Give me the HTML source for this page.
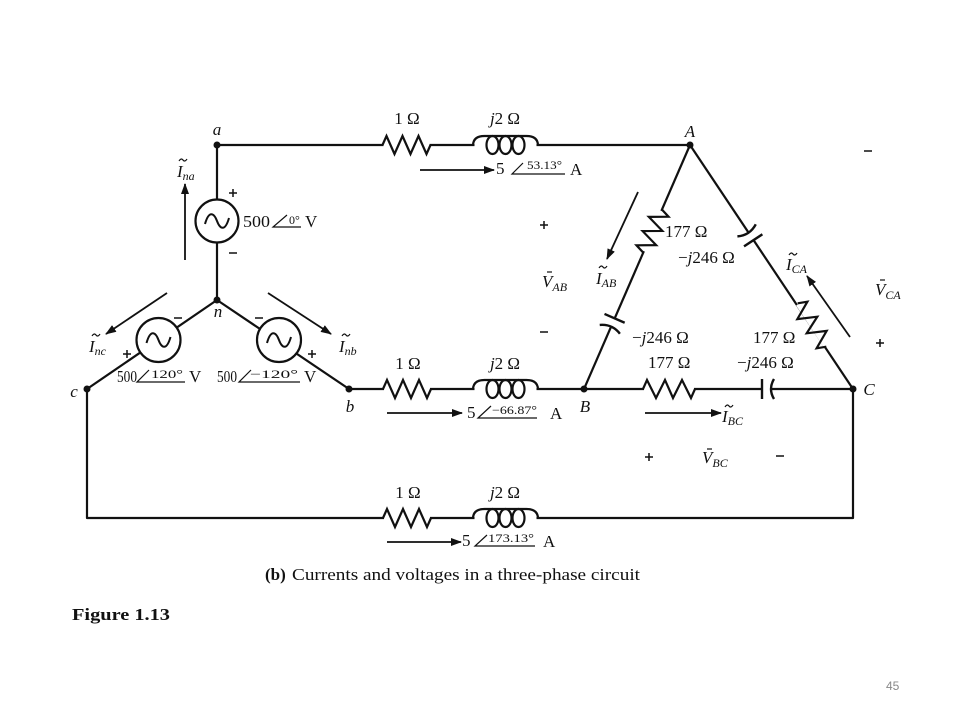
<!DOCTYPE html>
<html><head><meta charset="utf-8"><style>
html,body{margin:0;padding:0;background:#fff;}
svg{display:block;}
.t{font-family:"Liberation Serif",serif;font-size:17px;fill:#111;}
.i{font-style:italic;}
.s{font-size:12px;}
</style></head><body>
<svg width="960" height="720" viewBox="0 0 960 720" xmlns="http://www.w3.org/2000/svg">
<rect width="960" height="720" fill="#fff"/>
<defs>
<marker id="ah" markerWidth="11" markerHeight="8" refX="10" refY="4" orient="auto" markerUnits="userSpaceOnUse"><path d="M0,0 L11,4 L0,8 z" fill="#111"/></marker>
</defs>

<!-- wires -->
<g stroke="#111" stroke-width="2.2" fill="none" stroke-linejoin="round">
<path d="M217,145 H690"/>
<path d="M217,145 V300"/>
<path d="M217,300 L87,389 V518 H853 V389"/>
<path d="M217,300 L349,389 H853"/>
<path d="M690,145 L584,389"/>
<path d="M690,145 L853,389"/>
</g>

<!-- sources -->
<g stroke="#111" stroke-width="2.2" fill="#fff">
<circle cx="217" cy="221" r="21.5"/>
<circle cx="158.5" cy="340" r="22"/>
<circle cx="279" cy="340" r="22"/>
</g>
<g stroke="#111" stroke-width="2" fill="none">
<path d="M-12,3 C-8,-11 -3,-8 0,0 S8,11 12,-3" transform="translate(217,221)"/>
<path d="M-12,3 C-8,-11 -3,-8 0,0 S8,11 12,-3" transform="translate(158.5,340)"/>
<path d="M-12,3 C-8,-11 -3,-8 0,0 S8,11 12,-3" transform="translate(279,340)"/>
</g>

<!-- nodes -->
<g fill="#111">
<circle cx="217" cy="145" r="3.5"/>
<circle cx="690" cy="145" r="3.5"/>
<circle cx="217" cy="300" r="3.5"/>
<circle cx="87" cy="389" r="3.5"/>
<circle cx="349" cy="389" r="3.5"/>
<circle cx="584" cy="389" r="3.5"/>
<circle cx="853" cy="389" r="3.5"/>
</g>

<!-- resistors -->
<g stroke="#111" stroke-width="2.2" fill="none" stroke-linejoin="miter">
<g transform="translate(406.5,145)"><rect x="-23" y="-2.5" width="46" height="5" fill="#fff" stroke="none"/><path d="M-24,0 L-20,-9 L-12,9 L-4,-9 L4,9 L12,-9 L20,9 L24,0"/></g>
<g transform="translate(407,389)"><rect x="-23" y="-2.5" width="46" height="5" fill="#fff" stroke="none"/><path d="M-24,0 L-20,-9 L-12,9 L-4,-9 L4,9 L12,-9 L20,9 L24,0"/></g>
<g transform="translate(407,518)"><rect x="-23" y="-2.5" width="46" height="5" fill="#fff" stroke="none"/><path d="M-24,0 L-20,-9 L-12,9 L-4,-9 L4,9 L12,-9 L20,9 L24,0"/></g>
<g transform="translate(669,389)"><rect x="-25" y="-2.5" width="50" height="5" fill="#fff" stroke="none"/><path d="M-26,0 L-22,-9 L-13,9 L-4,-9 L4,9 L13,-9 L22,9 L26,0"/></g>
<g transform="translate(652.5,231) rotate(113.5)"><rect x="-22" y="-2.5" width="44" height="5" fill="#fff" stroke="none"/><path d="M-23.5,0 L-19.5,-9 L-11.5,9 L-4,-9 L4,9 L11.5,-9 L19.5,9 L23.5,0"/></g>
<g transform="translate(812,325) rotate(56.6)"><rect x="-25" y="-2.5" width="50" height="5" fill="#fff" stroke="none"/><path d="M-26,0 L-22,-9 L-13,9 L-4,-9 L4,9 L13,-9 L22,9 L26,0"/></g>
</g>

<!-- inductors -->
<g stroke="#111" stroke-width="2.2" fill="none">
<g transform="translate(505.5,145)"><rect x="-31" y="-2.5" width="62" height="5" fill="#fff" stroke="none"/><path d="M-32.5,0 Q-32,-9 -21,-9 L21,-9 Q32,-9 32.5,0"/><ellipse cx="-13" cy="0" rx="6" ry="9"/><ellipse cx="0" cy="0" rx="6" ry="9"/><ellipse cx="13" cy="0" rx="6" ry="9"/></g>
<g transform="translate(505.5,389)"><rect x="-31" y="-2.5" width="62" height="5" fill="#fff" stroke="none"/><path d="M-32.5,0 Q-32,-9 -21,-9 L21,-9 Q32,-9 32.5,0"/><ellipse cx="-13" cy="0" rx="6" ry="9"/><ellipse cx="0" cy="0" rx="6" ry="9"/><ellipse cx="13" cy="0" rx="6" ry="9"/></g>
<g transform="translate(505.5,518)"><rect x="-31" y="-2.5" width="62" height="5" fill="#fff" stroke="none"/><path d="M-32.5,0 Q-32,-9 -21,-9 L21,-9 Q32,-9 32.5,0"/><ellipse cx="-13" cy="0" rx="6" ry="9"/><ellipse cx="0" cy="0" rx="6" ry="9"/><ellipse cx="13" cy="0" rx="6" ry="9"/></g>
</g>

<!-- capacitors -->
<g stroke="#111" stroke-width="2.4" fill="none">
<g transform="translate(766,389)"><rect x="-4" y="-3" width="9" height="6" fill="#fff" stroke="none"/><path d="M-4,-10 V10"/><path d="M8,-10 Q2,0 8,10"/></g>
<g transform="translate(613,322) rotate(113.5)"><rect x="-4" y="-3" width="9" height="6" fill="#fff" stroke="none"/><path d="M-4,-11 V11"/><path d="M8,-11 Q2,0 8,11"/></g>
<g transform="translate(751,237) rotate(56.6)"><rect x="-5" y="-3" width="9" height="6" fill="#fff" stroke="none"/><path d="M-8,-11 Q-2,0 -8,11"/><path d="M4,-11 V11"/></g>
</g>

<!-- arrows -->
<g stroke="#111" stroke-width="1.8" marker-end="url(#ah)">
<line x1="420" y1="170" x2="494" y2="170"/>
<line x1="387" y1="413" x2="462" y2="413"/>
<line x1="387" y1="542" x2="461" y2="542"/>
<line x1="645" y1="413" x2="721" y2="413"/>
<line x1="185" y1="260" x2="185" y2="184"/>
<line x1="167" y1="293" x2="106" y2="334"/>
<line x1="268" y1="293" x2="331" y2="334"/>
<line x1="638" y1="192" x2="607" y2="259"/>
<line x1="850" y1="337" x2="807" y2="276"/>
</g>

<!-- angle symbols -->
<g stroke="#111" stroke-width="1.2" fill="none">
<path d="M523,163 L512,174 H565"/>
<path d="M491,406 L478,418 H537"/>
<path d="M487,535 L475,546 H535"/>
<path d="M287,215 L273,227 H301"/>
<path d="M149,370 L137,382 H185"/>
<path d="M251,370 L239,382 H300"/>
</g>

<!-- plus/minus signs -->
<g stroke="#111" stroke-width="1.5" fill="none">
<path d="M229,193 H237 M233,189 V197"/>
<path d="M229,253 H237"/>
<path d="M174,318 H182"/>
<path d="M123,354 H131 M127,350 V358"/>
<path d="M255,318 H263"/>
<path d="M308,354 H316 M312,350 V358"/>
<path d="M864,151 H872"/>
<path d="M876,343 H884 M880,339 V347"/>
<path d="M540,225 H548 M544,221 V229"/>
<path d="M540,332 H548"/>
<path d="M645,457 H653 M649,453 V461"/>
<path d="M776,456 H784"/>
</g>

<!-- tildes over I and V -->
<g stroke="#111" stroke-width="1.2" fill="none">
<path d="M179,161 c1.5,-2.5 3,-2.5 4,-1 s2.5,1.5 4,-1"/>
<path d="M92,336 c1.5,-2.5 3,-2.5 4,-1 s2.5,1.5 4,-1"/>
<path d="M342,336 c1.5,-2.5 3,-2.5 4,-1 s2.5,1.5 4,-1"/>
<path d="M599,268 c1.5,-2.5 3,-2.5 4,-1 s2.5,1.5 4,-1"/>
<path d="M789,255 c1.5,-2.5 3,-2.5 4,-1 s2.5,1.5 4,-1"/>
<path d="M725,407 c1.5,-2.5 3,-2.5 4,-1 s2.5,1.5 4,-1"/>
<path d="M547,272 h5"/>
<path d="M880,280 h5"/>
<path d="M707,449 h5"/>
</g>

<!-- node labels -->
<g class="t i" font-size="16" text-anchor="middle">
<text x="217" y="135" class="t i">a</text>
<text x="690" y="137" class="t i">A</text>
<text x="218" y="317" class="t i">n</text>
<text x="74" y="397" class="t i">c</text>
<text x="350" y="412" class="t i">b</text>
<text x="585" y="412" class="t i">B</text>
<text x="869" y="395" class="t i">C</text>
</g>

<!-- current / voltage labels -->
<text x="177" y="177" class="t i">I<tspan font-size="12" dy="3">na</tspan></text>
<text x="89" y="352" class="t i">I<tspan font-size="12" dy="3">nc</tspan></text>
<text x="339" y="352" class="t i">I<tspan font-size="12" dy="3">nb</tspan></text>
<text x="596" y="284" class="t i">I<tspan font-size="12" dy="3">AB</tspan></text>
<text x="786" y="270" class="t i">I<tspan font-size="12" dy="3">CA</tspan></text>
<text x="722" y="422" class="t i">I<tspan font-size="12" dy="3">BC</tspan></text>
<text x="542" y="287" class="t i">V<tspan font-size="12" dy="4">AB</tspan></text>
<text x="875" y="295" class="t i">V<tspan font-size="12" dy="4">CA</tspan></text>
<text x="702" y="463" class="t i">V<tspan font-size="12" dy="4">BC</tspan></text>

<!-- impedance labels -->
<g text-anchor="middle">
<text x="407" y="124" class="t">1 Ω</text>
<text x="505" y="124" class="t"><tspan font-style="italic">j</tspan>2 Ω</text>
<text x="408" y="369" class="t">1 Ω</text>
<text x="505" y="369" class="t"><tspan font-style="italic">j</tspan>2 Ω</text>
<text x="408" y="498" class="t">1 Ω</text>
<text x="505" y="498" class="t"><tspan font-style="italic">j</tspan>2 Ω</text>
</g>
<text x="665" y="237" class="t">177 Ω</text>
<text x="678" y="263" class="t">−<tspan font-style="italic">j</tspan>246 Ω</text>
<text x="632" y="343" class="t">−<tspan font-style="italic">j</tspan>246 Ω</text>
<text x="753" y="343" class="t">177 Ω</text>
<text x="648" y="368" class="t">177 Ω</text>
<text x="737" y="368" class="t">−<tspan font-style="italic">j</tspan>246 Ω</text>

<!-- phasor values -->
<text x="496" y="174" class="t">5</text>
<text x="527" y="169" class="t s" textLength="35" lengthAdjust="spacingAndGlyphs">53.13°</text>
<text x="570" y="175" class="t">A</text>

<text x="467" y="418" class="t">5</text>
<text x="492" y="414" class="t s" textLength="45" lengthAdjust="spacingAndGlyphs">−66.87°</text>
<text x="550" y="419" class="t">A</text>

<text x="462" y="546" class="t">5</text>
<text x="488" y="542" class="t s" textLength="46" lengthAdjust="spacingAndGlyphs">173.13°</text>
<text x="543" y="547" class="t">A</text>

<text x="243" y="227" class="t" textLength="27" lengthAdjust="spacingAndGlyphs">500</text>
<text x="289" y="224" class="t s">0°</text>
<text x="305" y="227" class="t">V</text>

<text x="117" y="382" class="t" textLength="20" lengthAdjust="spacingAndGlyphs">500</text>
<text x="151" y="378" class="t s" textLength="32" lengthAdjust="spacingAndGlyphs">120°</text>
<text x="189" y="382" class="t">V</text>

<text x="217" y="382" class="t" textLength="20" lengthAdjust="spacingAndGlyphs">500</text>
<text x="250" y="378" class="t s" textLength="48" lengthAdjust="spacingAndGlyphs">−120°</text>
<text x="304" y="382" class="t">V</text>

<!-- captions -->
<text x="265" y="580" class="t" font-weight="bold">(b)</text>
<text x="292" y="580" class="t" textLength="348" lengthAdjust="spacingAndGlyphs">Currents and voltages in a three-phase circuit</text>
<text x="72" y="620" class="t" font-size="19" font-weight="bold" textLength="98" lengthAdjust="spacingAndGlyphs">Figure 1.13</text>
<text x="886" y="690" font-family="Liberation Sans, sans-serif" font-size="12" fill="#888">45</text>
</svg>
</body></html>
